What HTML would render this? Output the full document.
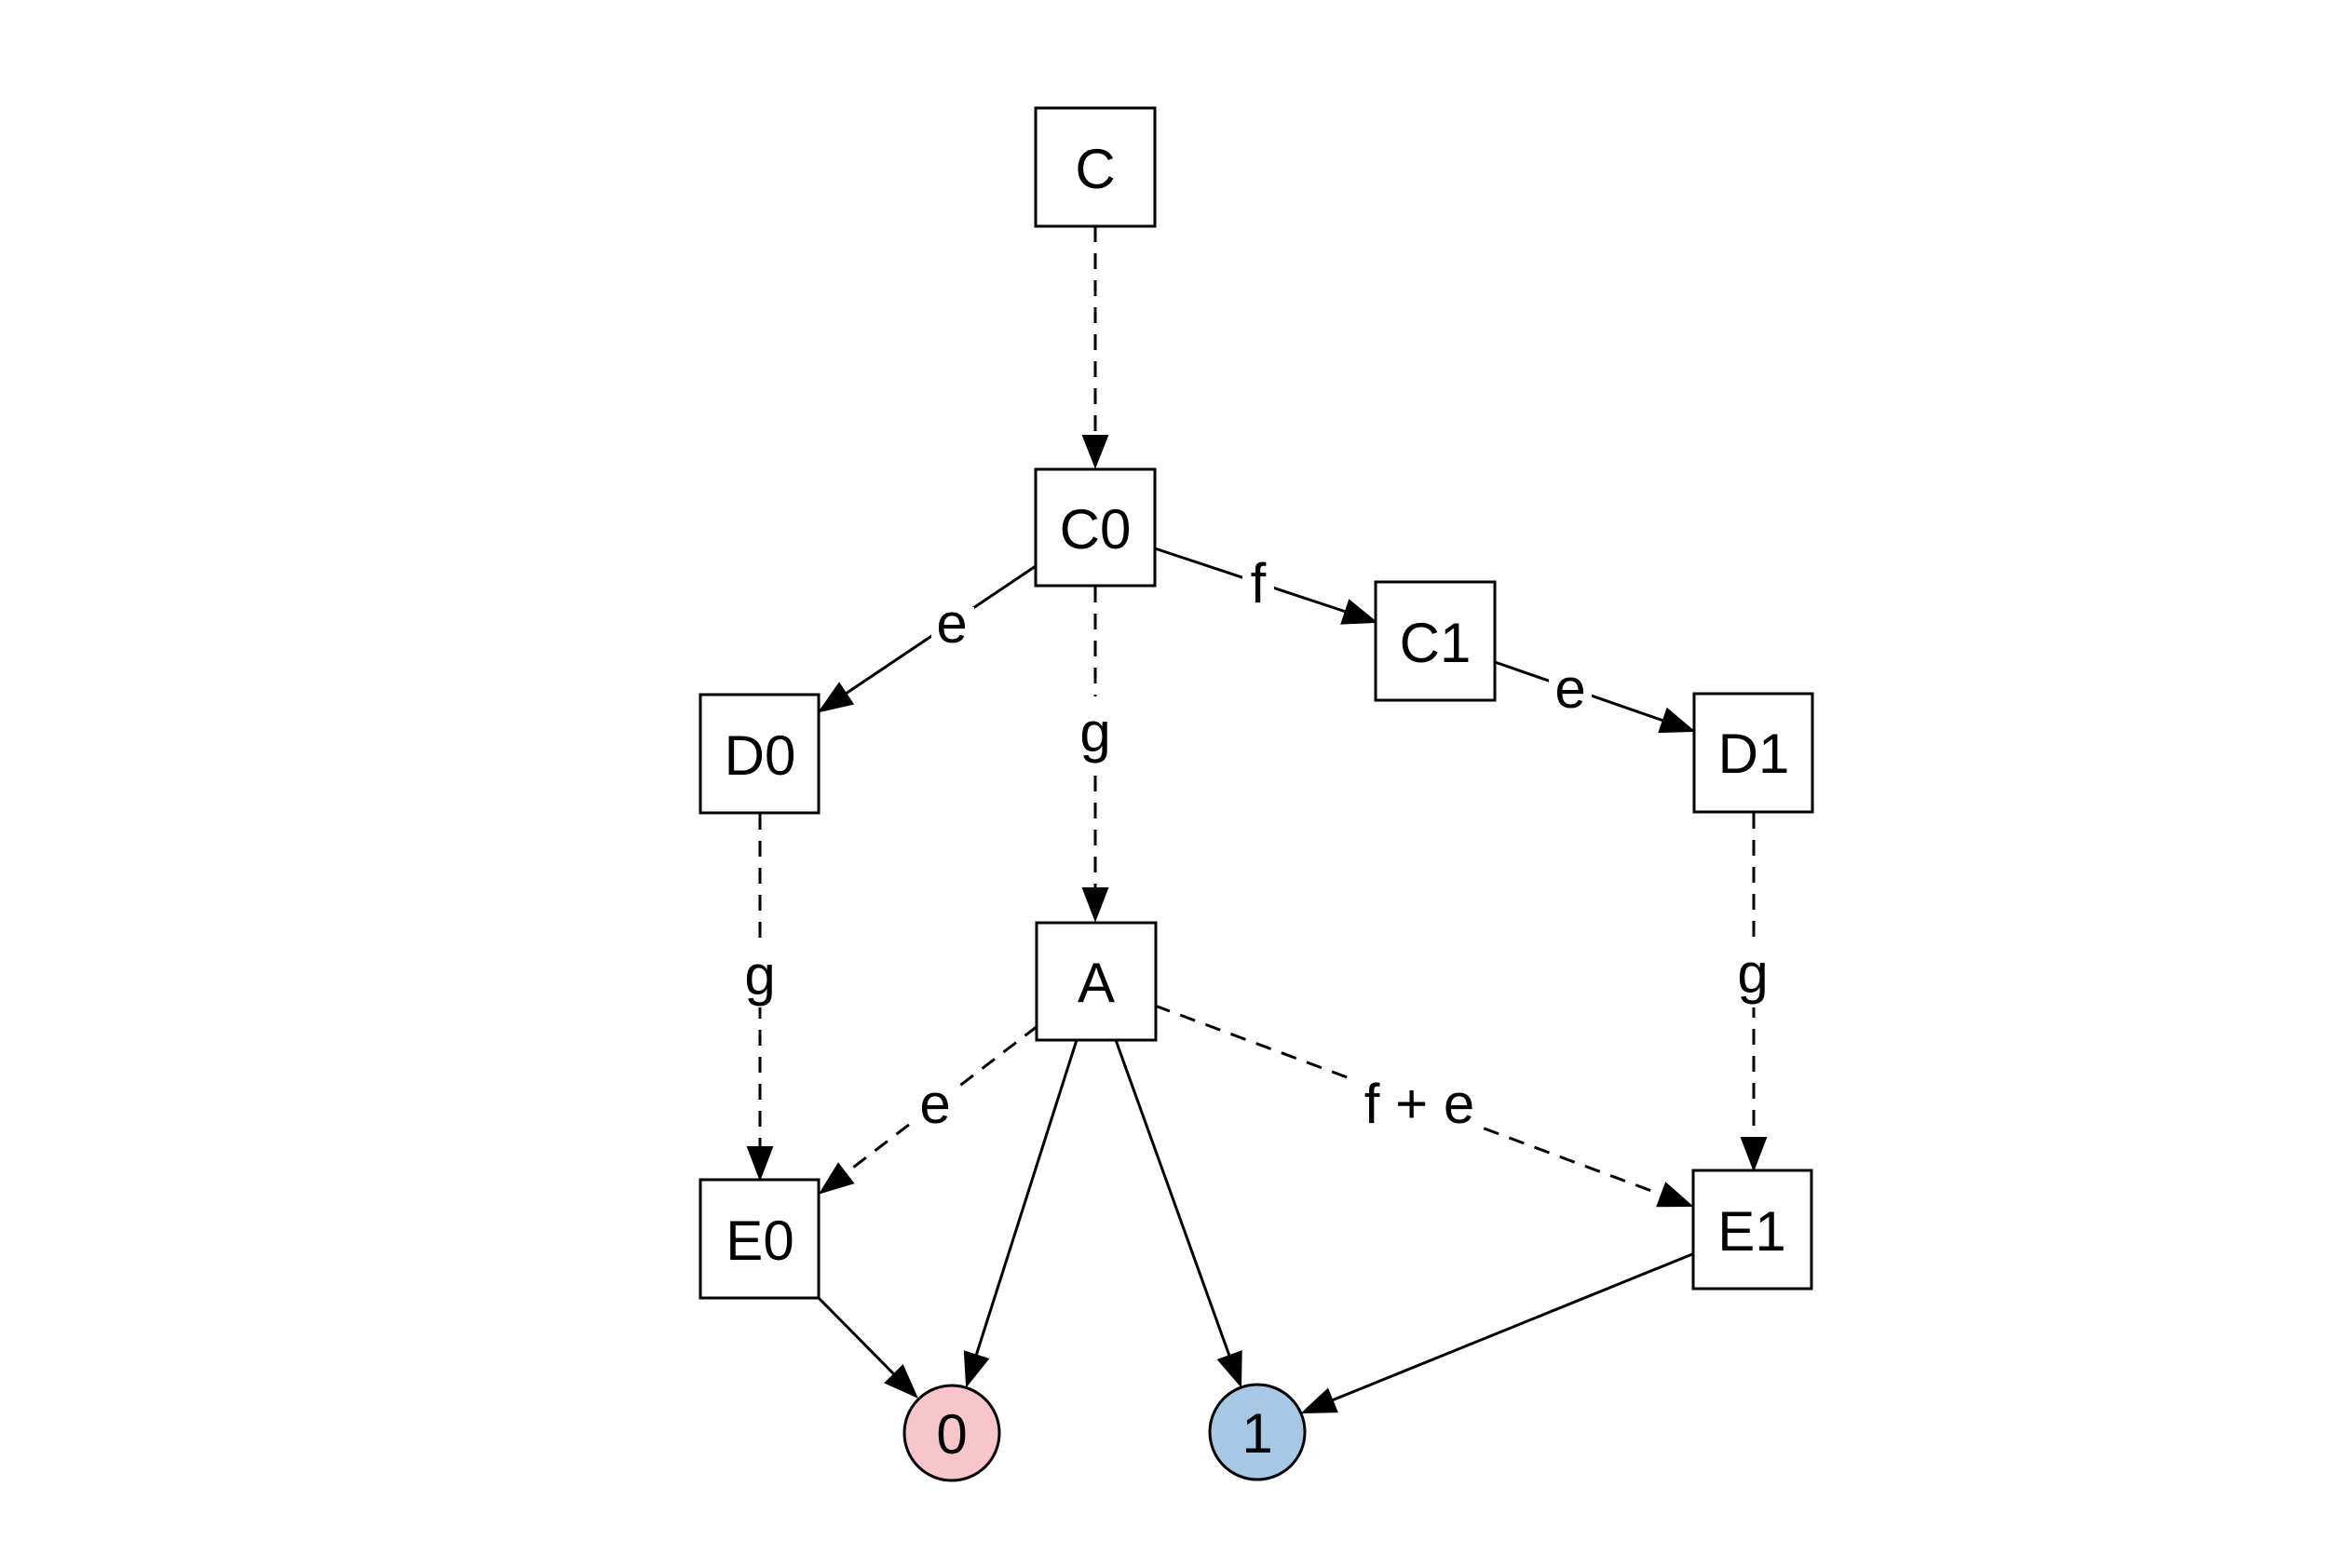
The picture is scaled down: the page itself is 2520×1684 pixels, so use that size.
<!DOCTYPE html>
<html>
<head>
<meta charset="utf-8">
<style>
html,body{margin:0;padding:0;background:#fff;}
svg{display:block;}
text{font-family:"Liberation Sans",Arial,sans-serif;font-size:60px;fill:#000;}
</style>
</head>
<body>
<svg width="2520" height="1684" viewBox="0 0 2520 1684" xmlns="http://www.w3.org/2000/svg">
<rect width="2520" height="1684" fill="#fff"/>
<g stroke="#000" stroke-width="3" fill="none">
  <!-- dashed edges -->
  <line x1="1176" y1="243" x2="1176" y2="470" stroke-dasharray="17,12"/>
  <line x1="1176" y1="630" x2="1176" y2="956" stroke-dasharray="17,12"/>
  <line x1="816" y1="874" x2="816" y2="1234" stroke-dasharray="17,12"/>
  <line x1="1883" y1="873" x2="1883" y2="1224" stroke-dasharray="17,12"/>
  <line x1="1114" y1="1102" x2="908" y2="1260" stroke-dasharray="17,12"/>
  <line x1="1240" y1="1080" x2="1784" y2="1283" stroke-dasharray="17,12"/>
  <!-- solid edges -->
  <line x1="1112" y1="608" x2="908" y2="745"/>
  <line x1="1240" y1="589" x2="1445" y2="657"/>
  <line x1="1605" y1="711" x2="1786" y2="774"/>
  <line x1="1156" y1="1117" x2="1048" y2="1456"/>
  <line x1="1198" y1="1117" x2="1320" y2="1456"/>
  <line x1="879" y1="1394" x2="960" y2="1476"/>
  <line x1="1817" y1="1347" x2="1430" y2="1504"/>
</g>
<g fill="#000" stroke="#000" stroke-width="2" stroke-linejoin="miter">
  <polygon points="1176,501 1163,468 1189,468"/>
  <polygon points="1176,988 1163,954 1189,954"/>
  <polygon points="816,1266 803,1232 829,1232"/>
  <polygon points="1883,1256 1870,1222 1896,1222"/>
  <polygon points="880,764 915.5,755.8 901,734.2"/>
  <polygon points="1477,668 1440.6,669.6 1448.8,645"/>
  <polygon points="1818,785 1781.6,786.1 1790.2,761.5"/>
  <polygon points="881,1281 915.9,1270.6 900.1,1250"/>
  <polygon points="1816,1295 1779.6,1295.3 1788.7,1270.9"/>
  <polygon points="1038,1488 1060.7,1459.5 1035.9,1451.7"/>
  <polygon points="1332,1488 1308.3,1460.4 1332.7,1451.6"/>
  <polygon points="984,1500 950.9,1485 969.3,1466.7"/>
  <polygon points="1399,1517 1425.6,1492.2 1435.4,1516.2"/>
</g>
<!-- label backgrounds -->
<g fill="#fff">
  <rect x="1000" y="652" width="46" height="46"/>
  <rect x="1334" y="600" width="34" height="52"/>
  <rect x="1663" y="720" width="46" height="46"/>
  <rect x="1156" y="748" width="40" height="82"/>
  <rect x="796" y="1008" width="40" height="74"/>
  <rect x="1863" y="1012" width="40" height="70"/>
  <rect x="982" y="1168" width="46" height="44"/>
  <rect x="1456" y="1156" width="136" height="58"/>
</g>
<!-- nodes -->
<g fill="#fff" stroke="#000" stroke-width="3">
  <rect x="1112" y="116" width="128" height="127"/>
  <rect x="1112" y="504" width="128" height="125"/>
  <rect x="1477" y="625" width="128" height="127"/>
  <rect x="752" y="746" width="127" height="127"/>
  <rect x="1819" y="745" width="127" height="127"/>
  <rect x="1113" y="991" width="128" height="126"/>
  <rect x="752" y="1267" width="127" height="127"/>
  <rect x="1818" y="1257" width="127" height="127"/>
  <circle cx="1022" cy="1539" r="51" fill="#f8c5cb"/>
  <circle cx="1350" cy="1538" r="51" fill="#a7c8e5"/>
</g>
<g text-anchor="middle">
  <text x="1176" y="202">C</text>
  <text x="1176" y="589">C0</text>
  <text x="1541" y="711">C1</text>
  <text x="816" y="832">D0</text>
  <text x="1883" y="830">D1</text>
  <text x="1177" y="1076">A</text>
  <text x="816" y="1353">E0</text>
  <text x="1881" y="1343">E1</text>
  <text x="1022" y="1561">0</text>
  <text x="1350" y="1560">1</text>
  <!-- edge labels -->
  <text x="1022" y="690">e</text>
  <text x="1351" y="647">f</text>
  <text x="1686" y="760">e</text>
  <text x="1176" y="807">g</text>
  <text x="816" y="1068">g</text>
  <text x="1882" y="1066">g</text>
  <text x="1004" y="1206">e</text>
  <text x="1524" y="1206">f + e</text>
</g>
</svg>
</body>
</html>
